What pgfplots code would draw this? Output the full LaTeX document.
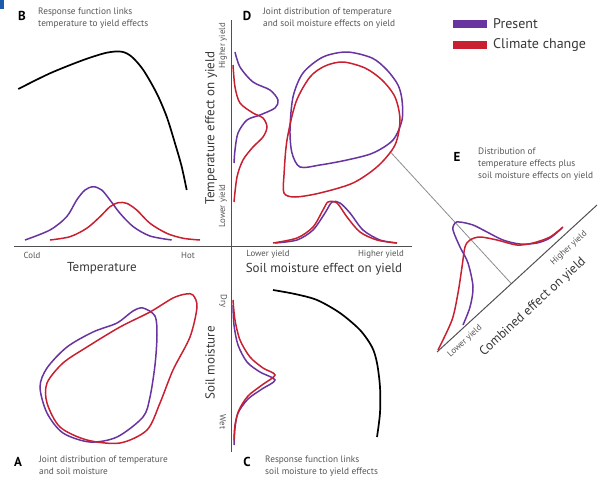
\documentclass[border=0pt]{standalone}
\usepackage{pgfplots}
\pgfplotsset{compat=1.18}
\usepackage{fontspec}
\setmainfont{PT Sans}
\definecolor{pres}{RGB}{104,52,160}
\definecolor{clim}{RGB}{200,32,48}
\definecolor{txt}{RGB}{85,85,85}
\definecolor{ttl}{RGB}{55,55,55}
\definecolor{axc}{RGB}{80,80,80}
\tikzset{
  desc/.style={font=\fontsize{9.3}{12}\selectfont,text=txt,align=left,anchor=north west,inner sep=0pt},
  lett/.style={font=\fontsize{13}{14}\selectfont\bfseries,text=black,inner sep=0pt},
  small/.style={font=\fontsize{8.8}{9}\selectfont,text=txt,inner sep=0pt},
  big/.style={font=\fontsize{13}{14}\selectfont,text=ttl,inner sep=0pt},
  pl/.style={pres,line width=1.5pt,smooth},
  cl/.style={clim,line width=1.5pt,smooth},
}
\begin{document}
\begin{tikzpicture}
\begin{axis}[width=600pt,height=480pt,scale only axis,
  xmin=0,xmax=600,ymin=0,ymax=480,y dir=reverse,hide axis,clip=false]
% frame for bounding box
\addplot[draw=none] coordinates {(0,0)(600,480)};
% corner artifact
\addplot[fill={rgb,255:red,30;green,90;blue,170},draw=none] coordinates {(0,0)(4,0)(4,9)(0,9)} -- cycle;
% main axes
\addplot[axc,line width=1pt] coordinates {(14,246)(412,246)};
\addplot[axc,line width=1pt] coordinates {(231,20)(231,452)};
% E axis and connector
\addplot[black!45,line width=0.8pt] coordinates {(390,151.5)(511.4,283.7)};
\addplot[axc,line width=1pt] coordinates {(437,352)(597,205)};

% B response function
\addplot[black,line width=1.7pt,smooth] coordinates {(18.3,89)(50,73.3)(83.3,60)(106.7,52.7)(121.7,51.7)(131.7,56.7)(143.3,70)(156.7,93.3)(166.7,116.7)(175,143.3)(181.7,166.7)(186.7,190)};
% B densities
\addplot[pl] coordinates {(25,240)(50,230)(66.7,216.7)(76.7,200)(85,190)(93.3,186.7)(101.7,190)(110,200)(120,213.3)(133.3,226.7)(150,236)(171.7,240)};
\addplot[cl] coordinates {(50,240)(70,236.7)(86.7,228.3)(100,216.7)(110,206.7)(118.3,202.7)(126.7,203.3)(136.7,210)(150,223.3)(166.7,233.3)(183.3,238.3)(200,240)};

% A loops
\addplot[pres,line width=1.5pt,smooth cycle] coordinates {(143,308)(155,316)(157,335)(155,365)(150,397)(143,417)(117,437)(90,442)(63,433)(47,413)(40,387)(47,368)(67,347)(93,332)(117,323)(133,311)};
\addplot[clim,line width=1.5pt,smooth cycle] coordinates {(193,295)(197,307)(190,337)(173,370)(160,403)(147,430)(120,443)(87,440)(60,427)(47,403)(47,383)(63,363)(87,347)(120,327)(150,312)(173,298)(186,294)};

% C response function
\addplot[black,line width=1.7pt,smooth] coordinates {(273,290)(295,294)(317,300)(340,313)(360,330)(372,347)(377,363)(380,387)(380,413)(377,437)};
% C densities
\addplot[pl] coordinates {(233,305)(234,325)(238,345)(247,362)(260,372)(275,380)(262,389)(248,399)(238,413)(235,428)(234,445)};
\addplot[cl] coordinates {(233,300)(235,320)(240,340)(250,357)(263,368)(275,375)(262,385)(248,396)(239,410)(235,425)(234,440)};

% D loops
\addplot[pres,line width=1.5pt,smooth cycle] coordinates {(347,52)(372,58)(387,70)(398,85)(402,100)(402,120)(393,140)(373,153)(347,160)(320,165)(300,167)(292,153)(290,130)(293,97)(303,73)(323,57)};
\addplot[clim,line width=1.5pt,smooth cycle] coordinates {(343,62)(365,68)(382,80)(395,97)(400,120)(395,145)(378,166)(353,183)(320,193)(295,197)(284,193)(284,175)(287,140)(296,102)(310,77)(325,66)};
% D vertical densities
\addplot[pl] coordinates {(235,52)(240,67)(253,82)(270,90)(278,100)(275,108)(260,115)(247,120)(238,133)(235,150)(234,163)};
\addplot[cl] coordinates {(233,65)(235,87)(240,103)(253,113)(263,118)(267,127)(263,137)(253,147)(243,160)(237,177)(234,202)};
% D horizontal densities
\addplot[pl] coordinates {(275,243)(297,240)(313,230)(325,213)(332,202)(340,203)(350,213)(363,230)(380,240)(397,243)};
\addplot[cl] coordinates {(273,243)(297,238)(313,227)(323,210)(328,202)(337,203)(347,217)(360,232)(377,240)(397,243)};

% E curves
\addplot[pl] coordinates {(463,325)(470,307)(473,287)(468,263)(460,247)(453,230)(455,223)(460,222)(473,225)(487,232)(503,240)(520,244)(537,243)(550,238)(562,228)};
\addplot[cl] coordinates {(438,350)(452,320)(458,293)(462,267)(465,247)(470,240)(480,237)(497,240)(517,245)(533,243)(550,237)(563,227)};

% legend
\addplot[fill=pres,draw=none] coordinates {(453,20)(487,20)(487,28)(453,28)} -- cycle;
\addplot[fill=clim,draw=none] coordinates {(453,41)(487,41)(487,49)(453,49)} -- cycle;
\node[font=\fontsize{14}{15}\selectfont,text=ttl,anchor=west,inner sep=0pt] at (axis cs:493,24) {Present};
\node[font=\fontsize{14}{15}\selectfont,text=ttl,anchor=west,inner sep=0pt] at (axis cs:493,45) {Climate change};

% panel titles
\node[lett] at (axis cs:22,16) {B};
\node[desc] at (axis cs:38,8) {Response function links\\temperature to yield effects};
\node[lett] at (axis cs:247,16) {D};
\node[desc] at (axis cs:263,8) {Joint distribution of temperature\\and soil moisture effects on yield};
\node[lett] at (axis cs:18,462) {A};
\node[desc] at (axis cs:39,456) {Joint distribution of temperature\\and soil moisture};
\node[lett] at (axis cs:247,462) {C};
\node[desc] at (axis cs:265,456) {Response function links\\soil moisture to yield effects};
\node[lett] at (axis cs:457,157) {E};
\node[desc] at (axis cs:478,148) {Distribution of\\temperature effects plus\\soil moisture effects on yield};

% axis labels
\node[small] at (axis cs:32,255) {Cold};
\node[small] at (axis cs:188,255) {Hot};
\node[big] at (axis cs:102,268) {Temperature};
\node[small] at (axis cs:268,254) {Lower yield};
\node[small] at (axis cs:381,254) {Higher yield};
\node[big] at (axis cs:324,269) {Soil moisture effect on yield};
\node[big,rotate=90] at (axis cs:211,128) {Temperature effect on yield};
\node[small,rotate=90] at (axis cs:223,46) {Higher yield};
\node[small,rotate=90] at (axis cs:223,206) {Lower yield};
\node[big,rotate=90] at (axis cs:210,363) {Soil moisture};
\node[small,rotate=-90] at (axis cs:223,301) {Dry};
\node[small,rotate=-90] at (axis cs:223,422) {Wet};
\node[small,rotate=42.6] at (axis cs:465,341) {Lower yield};
\node[small,rotate=42.6] at (axis cs:569,248) {Higher yield};
\node[big,rotate=42.6] at (axis cs:533,307) {Combined effect on yield};
\end{axis}
\end{tikzpicture}
\end{document}
